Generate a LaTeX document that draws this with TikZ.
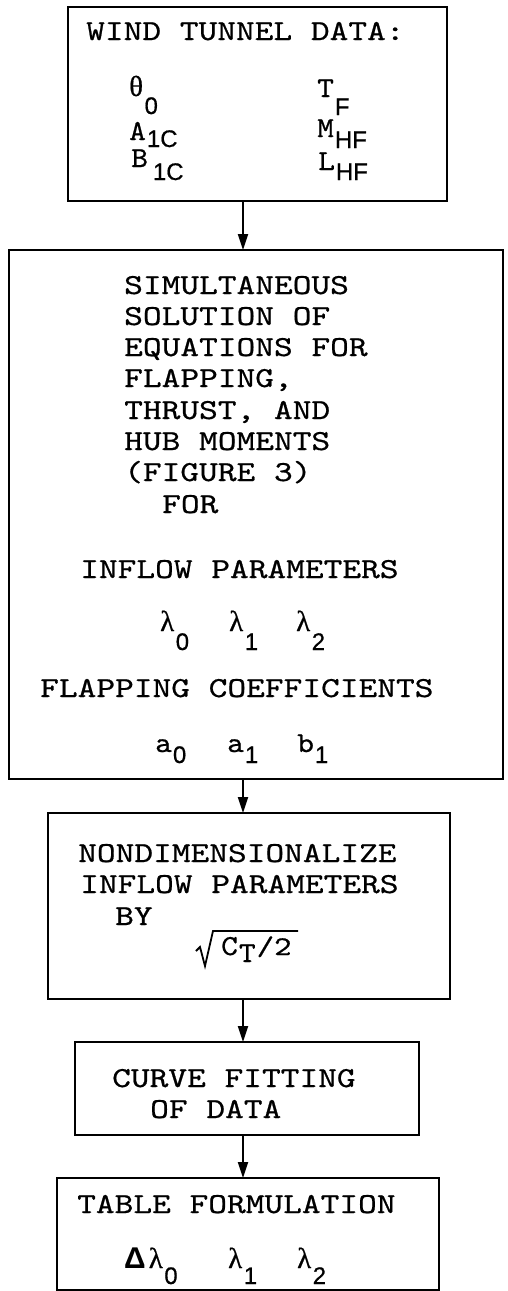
\documentclass[tikz,border=0pt]{standalone}
\usepackage{graphicx}
\usepackage{fontspec}
\newfontfamily\typed{lmmono10-regular.otf}[FakeBold=0.6]
\newfontfamily\subsans{Liberation Sans}[FakeBold=0.6]
\newfontfamily\grkfont{Liberation Serif}[FakeBold=0.6]
\newfontfamily\deltafont{Liberation Sans Bold}
\usetikzlibrary{arrows.meta}

% typewriter text, widened to the typed pitch
\newcommand{\tw}[1]{\scalebox{1.23}[1]{#1}}
\newcommand{\symfnt}{\typed\fontsize{29}{29}\selectfont}
\newcommand{\grkfnt}{\grkfont\fontsize{29}{29}\selectfont}
\newcommand{\subfnt}{\subsans\fontsize{24}{24}\selectfont}
% typed letter with a lowered subscript
\newcommand{\tsym}[3]{\scalebox{1.1}[1]{\symfnt #1}\kern1pt\raisebox{-#3pt}{\subfnt #2}}
\newcommand{\gsym}[3]{{\grkfnt #1}\kern1.5pt\raisebox{-#3pt}{\subfnt #2}}

\tikzset{
  box/.style={draw, line width=2pt, rectangle, inner sep=0pt, outer sep=0pt},
  txt/.style={anchor=base west, inner sep=0pt, font=\typed\fontsize{29}{29}\selectfont},
  flow/.style={line width=2pt, -{Triangle[length=16pt,width=10pt]}}
}

\begin{document}
\begin{tikzpicture}[x=1pt, y=-1pt]

    \useasboundingbox (0,0) rectangle (507,1291);

    % Boxes
    \node[box, minimum width=379pt, minimum height=194pt] (wind)   at (257.5,104)  {};
    \node[box, minimum width=494pt, minimum height=529pt] (solve)  at (256,514.5)  {};
    \node[box, minimum width=402pt, minimum height=186pt] (nondim) at (249,906)    {};
    \node[box, minimum width=344pt, minimum height=93pt]  (fit)    at (247,1088.5) {};
    \node[box, minimum width=382pt, minimum height=112pt] (table)  at (248,1234)   {};

    % Flow arrows
    \coordinate (ax) at (243,0);
    \draw[flow] (wind.south -| ax)   -- (solve.north -| ax);
    \draw[flow] (solve.south -| ax)  -- (nondim.north -| ax);
    \draw[flow] (nondim.south -| ax) -- (fit.north -| ax);
    \draw[flow] (fit.south -| ax)    -- (table.north -| ax);

    % Wind tunnel data
    \node[txt] (windtitle) at (86,40) {\tw{WIND TUNNEL DATA:}};
    \node[txt] (theta) at (129,96)  {\gsym{θ}{0}{18}};
    \node[txt] (aone)  at (129,140) {\tsym{A}{1C}{7}};
    \node[txt] (bone)  at (131,167) {\tsym{B}{\kern4pt 1C}{13}};
    \node[txt] (tf)    at (317,97)  {\tsym{T}{F}{18}};
    \node[txt] (mhf)   at (317,137) {\tsym{M}{HF}{11}};
    \node[txt] (lhf)   at (318,170) {\tsym{L}{HF}{10}};

    % Simultaneous solution
    \node[txt] (sa) at (124,294) {\tw{SIMULTANEOUS}};
    \node[txt] (sb) at (124,325) {\tw{SOLUTION OF}};
    \node[txt] (sc) at (124,356) {\tw{EQUATIONS FOR}};
    \node[txt] (sd) at (124,387) {\tw{FLAPPING,}};
    \node[txt] (se) at (124,419) {\tw{THRUST, AND}};
    \node[txt] (sf) at (124,450) {\tw{HUB MOMENTS}};
    \node[txt] (sg) at (124,481) {\tw{(FIGURE 3)}};
    \node[txt] (sh) at (162,513) {\tw{FOR}};
    \node[txt] (inflow) at (80,578) {\tw{INFLOW PARAMETERS}};
    \node[txt] (lama) at (160,631) {\gsym{λ}{0}{19}};
    \node[txt] (lamb) at (229,631) {\gsym{λ}{1}{19}};
    \node[txt] (lamc) at (296,631) {\gsym{λ}{2}{19}};
    \node[txt] (flap) at (40,697) {\tw{FLAPPING COEFFICIENTS}};
    \node[txt] (azero) at (155,752) {\tsym{a}{0}{11}};
    \node[txt] (aonec) at (227,752) {\tsym{a}{1}{11}};
    \node[txt] (bonec) at (297,752) {\tsym{b}{1}{11}};

    % Nondimensionalize
    \node[txt] (na) at (78,862) {\tw{NONDIMENSIONALIZE}};
    \node[txt] (nb) at (80,893) {\tw{INFLOW PARAMETERS}};
    \node[txt] (nc) at (115,925) {\tw{BY}};
    \draw[line width=1.8pt, line join=miter] (196,951) -- (200,947) -- (205,966) -- (213,931) -- (298,931);
    \node[txt] (ct) at (221,955) {\tsym{C}{\scalebox{1.1}[1]{\symfnt T}}{7}\kern1pt\tw{\fontsize{27}{27}\selectfont/2}};

    % Curve fitting
    \node[txt] (fa) at (112,1087) {\tw{CURVE FITTING}};
    \node[txt] (fb) at (150,1118) {\tw{OF DATA}};

    % Table formulation
    \node[txt] (ta) at (77,1213) {\tw{TABLE FORMULATION}};
    \node[txt] (dl) at (124,1268) {{\deltafont\fontsize{30}{30}\selectfont Δ}\kern3pt\gsym{λ}{0}{16}};
    \node[txt] (tlb) at (228,1268) {\gsym{λ}{1}{16}};
    \node[txt] (tlc) at (297,1268) {\gsym{λ}{2}{16}};

\end{tikzpicture}
\end{document}
